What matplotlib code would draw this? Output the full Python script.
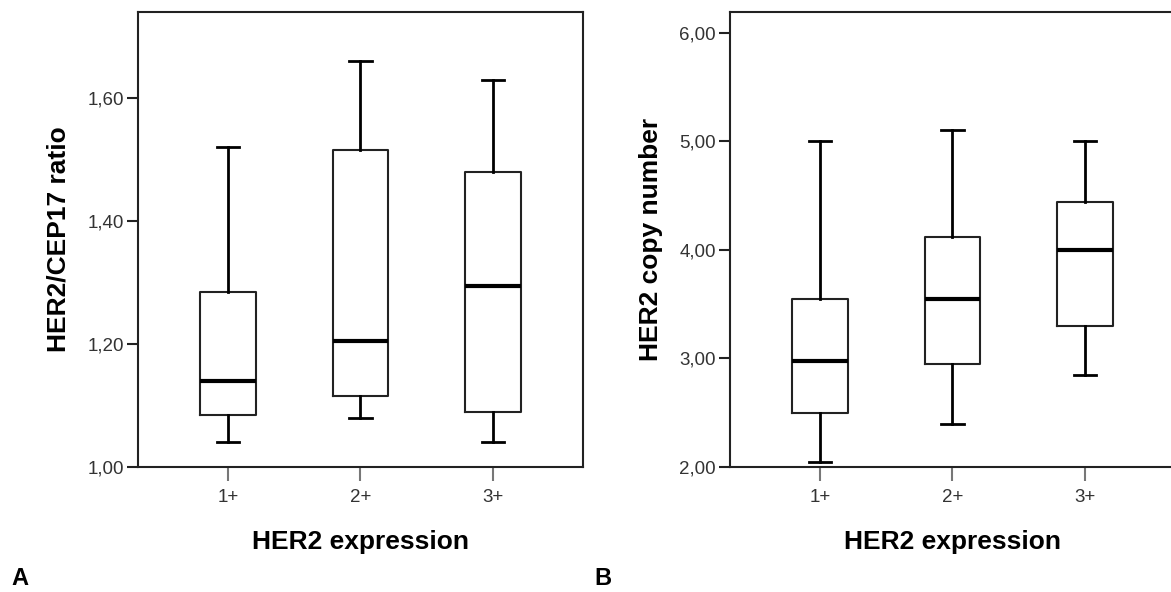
"""
HER2 boxplots, panels A and B
"""
import numpy as np
import matplotlib
matplotlib.use('Agg')
import matplotlib.pyplot as plt

plt.rcParams['font.family'] = ['Liberation Sans', 'DejaVu Sans']

groups = ['1+', '2+', '3+']

# panel A: HER2/CEP17 ratio
ratio_low = [1.04, 1.08, 1.04]
ratio_q1 = [1.085, 1.115, 1.09]
ratio_med = [1.14, 1.205, 1.295]
ratio_q3 = [1.285, 1.515, 1.48]
ratio_high = [1.52, 1.66, 1.63]
ratio_ticks = [1.00, 1.20, 1.40, 1.60]

# panel B: HER2 copy number
copy_low = [2.05, 2.40, 2.85]
copy_q1 = [2.50, 2.95, 3.30]
copy_med = [2.98, 3.55, 4.00]
copy_q3 = [3.55, 4.12, 4.44]
copy_high = [5.00, 5.10, 5.00]
copy_ticks = [2.00, 3.00, 4.00, 5.00, 6.00]


def make_stats(low, q1, med, q3, high):
    return [dict(whislo=a, q1=b, med=c, q3=d, whishi=e, fliers=[], label=g)
            for a, b, c, d, e, g in zip(low, q1, med, q3, high, groups)]


def draw_panel(ax, stats, ticks, ylim, ylabel):
    pos = np.arange(1, len(groups) + 1)
    ax.bxp(stats, positions=pos, widths=0.42, capwidths=0.17, showfliers=False,
           boxprops=dict(color='#222222', linewidth=1.5),
           medianprops=dict(color='black', linewidth=3),
           whiskerprops=dict(color='black', linewidth=2),
           capprops=dict(color='black', linewidth=2))
    ax.set_xlim(0.32, 3.68)
    ax.set_ylim(*ylim)
    ax.set_yticks(ticks)
    ax.set_yticklabels([f'{t:.2f}'.replace('.', ',') for t in ticks])
    ax.set_xticks(pos)
    ax.set_xticklabels(groups)
    ax.tick_params(axis='both', direction='out', length=8, width=1.5,
                   labelsize=13.5, labelcolor='#333333', color='#222222', pad=2)
    ax.tick_params(axis='x', length=10, color='#777777', pad=6)
    for s in ax.spines.values():
        s.set_linewidth(1.5)
        s.set_color('#222222')
    ax.set_ylabel(ylabel, fontsize=19, fontweight='bold', labelpad=12)
    ax.set_xlabel('HER2 expression', fontsize=19, fontweight='bold', labelpad=17)


fig = plt.figure(figsize=(11.71, 5.92), dpi=100)
ax1 = fig.add_axes([0.1178, 0.2111, 0.380, 0.7686])
ax2 = fig.add_axes([0.6234, 0.2111, 0.380, 0.7686])

draw_panel(ax1, make_stats(ratio_low, ratio_q1, ratio_med, ratio_q3, ratio_high),
           ratio_ticks, (1.0, 1.74), 'HER2/CEP17 ratio')
draw_panel(ax2, make_stats(copy_low, copy_q1, copy_med, copy_q3, copy_high),
           copy_ticks, (2.0, 6.19), 'HER2 copy number')

fig.text(0.010, 0.012, 'A', fontsize=17, fontweight='bold')
fig.text(0.508, 0.012, 'B', fontsize=17, fontweight='bold')

fig.savefig('out.png', dpi=100)
